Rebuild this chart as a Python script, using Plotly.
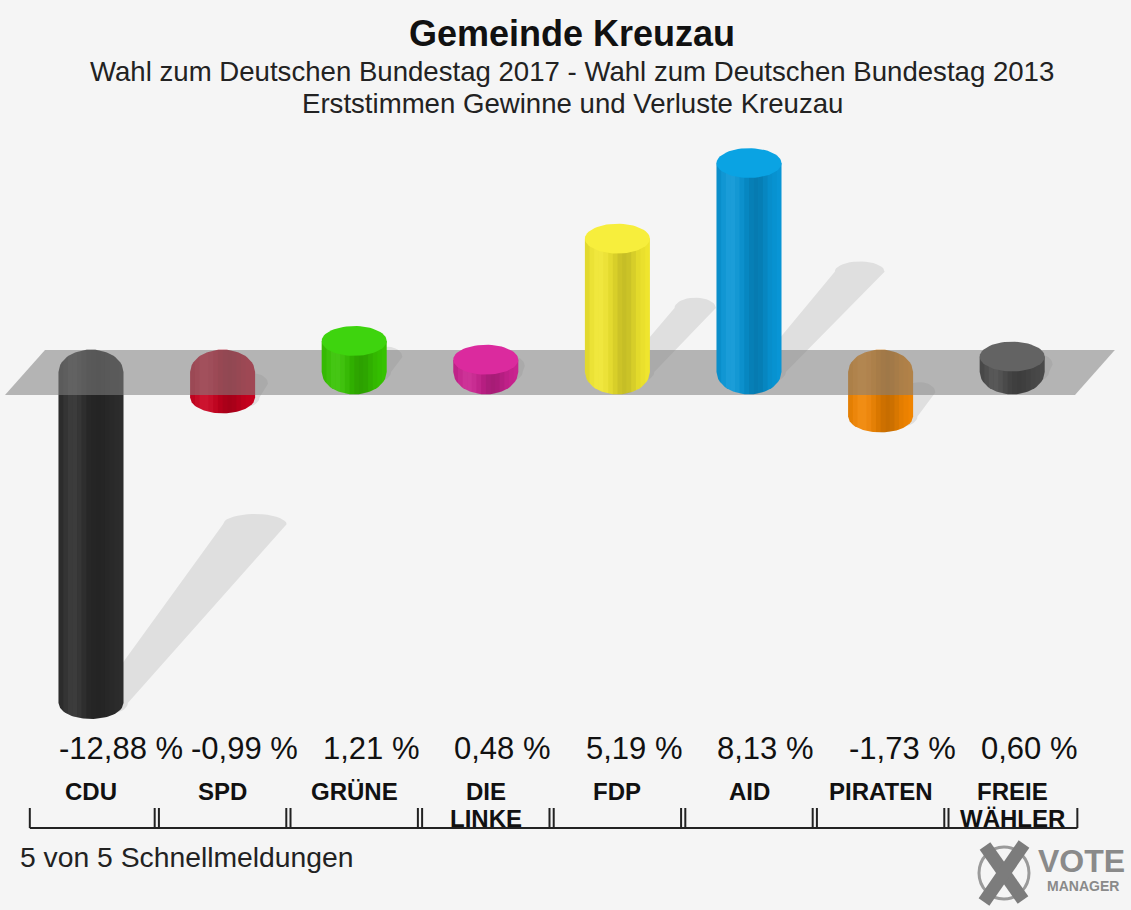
import numpy as np
import plotly.graph_objects as go

# ---------------- data ----------------
parties = ["CDU", "SPD", "GRÜNE", "DIE LINKE", "FDP", "AID", "PIRATEN", "FREIE WÄHLER"]
label_line1 = ["CDU", "SPD", "GRÜNE", "DIE", "FDP", "AID", "PIRATEN", "FREIE"]
label_line2 = ["", "", "", "LINKE", "", "", "", "WÄHLER"]
values = [-12.88, -0.99, 1.21, 0.48, 5.19, 8.13, -1.73, 0.60]
body_colors = ["#2c2c2c", "#c8001e", "#36c200", "#c9228f", "#efe52e", "#0895d5", "#f08400", "#4a4a4a"]
cap_colors = ["#3a3a3a", "#d0102c", "#3ed40e", "#db2a9e", "#f7ee3c", "#0aa3e3", "#f59010", "#636363"]

title = "Gemeinde Kreuzau"
subtitle1 = "Wahl zum Deutschen Bundestag 2017 - Wahl zum Deutschen Bundestag 2013"
subtitle2 = "Erststimmen Gewinne und Verluste Kreuzau"
footer = "5 von 5 Schnellmeldungen"

# ---------------- geometry (figure pixels <-> axes) ----------------
W, H = 1131, 910
X0, DX = 91.0, 131.6      # pixel of first category, pixels per category
Y0, DY = 372.0, 25.7      # pixel of zero, pixels per percent point


def py2y(py):
    return (Y0 - py) / DY


def px2p(px):
    return px / W


def py2p(py):
    return 1 - py / H


HW = 0.247      # half width of cylinder (category units)
B_CAP = 0.58    # top cap ellipse half height (value units)
B_END = 0.87    # rounding of the base end
B_TIP = 0.62    # rounding of negative tip

FONT = "Liberation Sans, Arial, sans-serif"
BG = "#f5f5f5"

fig = go.Figure()


def add_poly(xs, ys, color):
    fig.add_trace(go.Scatter(x=list(xs), y=list(ys), mode="lines", fill="toself",
                             fillcolor=color, line=dict(width=0, color=color),
                             hoverinfo="skip", showlegend=False))


def body_poly(xc, v, a, b, n=16):
    xs = np.linspace(xc + a, xc + b, n)
    s = np.sqrt(np.clip(1 - ((xs - xc) / HW) ** 2, 0, 1))
    if v >= 0:
        top = np.full(n, v)
        bot = -B_END * s
    else:
        top = B_END * s
        bot = v - B_TIP * s
    return np.concatenate([xs, xs[::-1]]), np.concatenate([top, bot[::-1]])


def ellipse(xc, yc, rx, ry, n=60):
    t = np.linspace(0, 2 * np.pi, n)
    return xc + rx * np.cos(t), yc + ry * np.sin(t)


def shadow_poly(xc, v, n=20):
    # slanted shadow, cast up-right from the bar end
    L = abs(v)
    y_start = 0.0 if v >= 0 else v
    m = 0.48 if v >= 0 else 0.54
    x_start = xc + 0.15
    x_end = x_start + 0.085 * L
    y_end = y_start + m * L
    hw0, hw1, r = 0.13, 0.10 + 0.011 * L, 0.4
    t = np.linspace(0, np.pi, n)
    tx = x_end + hw1 * np.cos(t)
    ty = y_end + r * np.sin(t)
    bx = x_start - hw0 * np.cos(t)
    by = y_start - r * np.sin(t)
    return np.concatenate([tx, bx]), np.concatenate([ty, by])


xs_cat = list(range(len(parties)))

# shadows
for i, v in zip(xs_cat, values):
    sx, sy = shadow_poly(i, v)
    add_poly(sx, sy, "rgba(0,0,0,0.085)")

# shading profile across the cylinder (position -1..1 -> rgba overlay)
N_SLICE = 14
edges = np.linspace(-HW, HW, N_SLICE + 1)


def shade(d):
    dark = 0.17 * np.exp(-((d - 0.22) / 0.38) ** 2) + 0.06 * np.exp(-((d + 1.0) / 0.18) ** 2)
    light = 0.08 * np.exp(-((d + 0.55) / 0.3) ** 2)
    return dark, light


def draw_cylinder(i, v):
    bx, by = body_poly(i, v, -HW, HW, n=40)
    add_poly(bx, by, body_colors[i])
    for k in range(N_SLICE):
        a, b = edges[k], edges[k + 1]
        d = (a + b) / 2 / HW
        dark, light = shade(d)
        sx, sy = body_poly(i, v, a, b, n=4)
        if dark > 0.01:
            add_poly(sx, sy, f"rgba(0,0,0,{dark:.3f})")
        if light > 0.01:
            add_poly(sx, sy, f"rgba(255,255,255,{light:.3f})")
    if v >= 0:
        cx, cy = ellipse(i, v, HW, B_CAP)
        add_poly(cx, cy, cap_colors[i])


# negative cylinders (below the zero plane)
for i, v in zip(xs_cat, values):
    if v < 0:
        draw_cylinder(i, v)

# zero plane band (semi-transparent)
band_x = [-0.6535, -0.3495, len(parties) - 0.22, len(parties) - 0.523, -0.6535]
band_y = [py2y(395), py2y(350), py2y(350), py2y(395), py2y(395)]
add_poly(band_x, band_y, "rgba(128,128,128,0.56)")

# positive cylinders
for i, v in zip(xs_cat, values):
    if v >= 0:
        draw_cylinder(i, v)

annotations = []

# titles
annotations.append(dict(text="<b>" + title + "</b>", x=px2p(572), y=py2p(34), xref="paper", yref="paper",
                        showarrow=False, xanchor="center", yanchor="middle",
                        font=dict(family=FONT, size=36, color="#111111")))
annotations.append(dict(text=subtitle1, x=px2p(572), y=py2p(72), xref="paper", yref="paper",
                        showarrow=False, xanchor="center", yanchor="middle",
                        font=dict(family=FONT, size=27.6, color="#222222")))
annotations.append(dict(text=subtitle2, x=px2p(572), y=py2p(103), xref="paper", yref="paper",
                        showarrow=False, xanchor="center", yanchor="middle",
                        font=dict(family=FONT, size=27.6, color="#222222")))

# value labels and party labels
for i, v in zip(xs_cat, values):
    txt = f"{v:.2f}".replace(".", ",") + " %"
    annotations.append(dict(text=txt, x=i - 0.255, y=py2y(748), xref="x", yref="y", showarrow=False,
                            xanchor="left", yanchor="middle",
                            font=dict(family=FONT, size=31, color="#111111")))
    annotations.append(dict(text="<b>" + label_line1[i] + "</b>", x=i, y=py2y(791), xref="x", yref="y",
                            showarrow=False, xanchor="center", yanchor="middle",
                            font=dict(family=FONT, size=24, color="#111111")))
    if label_line2[i]:
        annotations.append(dict(text="<b>" + label_line2[i] + "</b>", x=i, y=py2y(818), xref="x", yref="y",
                                showarrow=False, xanchor="center", yanchor="middle",
                                font=dict(family=FONT, size=24, color="#111111")))

# footer
annotations.append(dict(text=footer, x=px2p(18), y=py2p(857), xref="paper", yref="paper",
                        showarrow=False, xanchor="left", yanchor="middle",
                        font=dict(family=FONT, size=28.3, color="#222222")))

# logo text
annotations.append(dict(text="<b>VOTE</b>", x=px2p(1081), y=py2p(861), xref="paper", yref="paper",
                        showarrow=False, xanchor="center", yanchor="middle",
                        font=dict(family=FONT, size=32, color="#8a8a8a")))
annotations.append(dict(text="<b>MANAGER</b>", x=px2p(1083), y=py2p(886), xref="paper", yref="paper",
                        showarrow=False, xanchor="center", yanchor="middle",
                        font=dict(family=FONT, size=14, color="#8a8a8a")))

shapes = []
LC = "#222222"
y_line = py2y(828)
y_tick_top = py2y(808)
n = len(parties)
shapes.append(dict(type="line", xref="x", yref="y", x0=-0.465, x1=n - 0.505, y0=y_line, y1=y_line,
                   line=dict(color=LC, width=2)))
shapes.append(dict(type="line", xref="x", yref="y", x0=-0.465, x1=-0.465, y0=y_line, y1=y_tick_top,
                   line=dict(color=LC, width=2)))
shapes.append(dict(type="line", xref="x", yref="y", x0=n - 0.505, x1=n - 0.505, y0=y_line, y1=y_tick_top,
                   line=dict(color=LC, width=2)))
for k in range(n - 1):
    for off in (-0.016, 0.016):
        xb = k + 0.5 + off
        shapes.append(dict(type="line", xref="x", yref="y", x0=xb, x1=xb, y0=y_line, y1=y_tick_top,
                           line=dict(color=LC, width=2)))

# logo cross + ring
shapes.append(dict(type="circle", xref="paper", yref="paper",
                   x0=px2p(979), x1=px2p(1029), y0=py2p(899), y1=py2p(847),
                   line=dict(color="#9a9a9a", width=3)))
shapes.append(dict(type="line", xref="paper", yref="paper", x0=px2p(985), y0=py2p(846),
                   x1=px2p(1023), y1=py2p(900), line=dict(color="#7c7c7c", width=13)))
shapes.append(dict(type="line", xref="paper", yref="paper", x0=px2p(1024), y0=py2p(844),
                   x1=px2p(984), y1=py2p(902), line=dict(color="#7c7c7c", width=13)))

fig.update_layout(
    width=W, height=H,
    margin=dict(l=0, r=0, t=0, b=0, pad=0),
    paper_bgcolor=BG, plot_bgcolor=BG,
    showlegend=False,
    hovermode=False,
    xaxis=dict(range=[(0 - X0) / DX, (W - X0) / DX], visible=False, fixedrange=True),
    yaxis=dict(range=[(Y0 - H) / DY, Y0 / DY], visible=False, fixedrange=True),
    annotations=annotations,
    shapes=shapes,
)

fig.write_html("out.html",
               config={"displayModeBar": False},
               post_script="document.body.style.margin='0px';document.body.style.overflow='hidden';")
